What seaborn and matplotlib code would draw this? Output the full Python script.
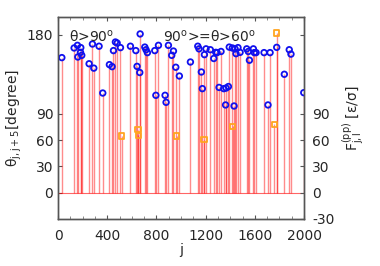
import numpy as np
import pandas as pd
import matplotlib
matplotlib.use("Agg")
import matplotlib.pyplot as plt
import seaborn as sns

# bead index j and angle (degree) for theta > 90
blue_j = [30, 130, 157, 160, 182, 184, 192, 252, 279, 290, 333, 363, 417, 439,
          450, 466, 480, 507, 588, 632, 642, 664, 667, 705, 715, 726, 786, 795,
          816, 870, 878, 897, 924, 938, 957, 986, 1076, 1136, 1146, 1165, 1173,
          1190, 1203, 1238, 1266, 1282, 1293, 1309, 1325, 1347, 1362, 1366, 1385,
          1392, 1417, 1431, 1439, 1447, 1463, 1480, 1534, 1547, 1556, 1588, 1596,
          1610, 1675, 1707, 1724, 1778, 1840, 1880, 1894, 1998]
blue_theta = [154, 165, 168, 154.7, 160, 165.4, 156.6, 147, 169.5, 142, 167, 113.6, 146, 143.7,
              162, 171.8, 170.6, 165.4, 167, 162, 144, 137, 181, 166, 163, 159.7, 162, 111,
              168, 111, 103, 168, 156.6, 161.5, 143, 133, 149, 167, 164, 137.6, 118.6,
              157.4, 164, 163, 153, 160, 159.7, 120, 161, 118.6, 100, 119.3, 121,
              166, 165, 98.8, 164, 158.5, 165.4, 160, 164, 161, 151, 164, 159.7,
              159.7, 159.7, 100, 159.7, 165.7, 135, 163, 158, 114]

# 90 >= theta > 60
orange_j = [518, 650, 653, 965, 1187, 1420, 1759, 1778]
orange_theta = [64.6, 71.8, 65.4, 64.6, 60.4, 75.6, 78, 182]

x_ticks = [0, 400, 800, 1200, 1600, 2000]
left_ticks = [0, 30, 60, 90, 180]
right_ticks = [-30, 0, 30, 60, 90]

blue = pd.DataFrame({"j": blue_j, "theta": blue_theta})
orange = pd.DataFrame({"j": orange_j, "theta": orange_theta})
stems = pd.concat([blue, orange])

sns.set_style("ticks")
plt.rcParams["font.family"] = ["DejaVu Sans"]
plt.rcParams["xtick.direction"] = "in"
plt.rcParams["ytick.direction"] = "in"

fig = plt.figure(figsize=(3.8, 2.66), dpi=100)
ax = fig.add_axes([0.153, 0.177, 0.647, 0.758])

ax.axhline(0, color="red", lw=0.8, alpha=0.6, zorder=1)
ax.vlines(stems["j"], 0, stems["theta"], color="red", lw=1.0, alpha=0.45, zorder=1)

sns.scatterplot(data=blue, x="j", y="theta", ax=ax, marker="o", s=16,
                facecolor="none", edgecolor="#1010ee", linewidth=1.3, zorder=3)
sns.scatterplot(data=orange, x="j", y="theta", ax=ax, marker="s", s=14,
                facecolor="none", edgecolor="#ffa520", linewidth=1.3, zorder=3)

ax.set_xlim(0, 2000)
ax.set_ylim(-30, 200)
ax.set_xticks(x_ticks)
ax.set_xticks(np.arange(0, 2001, 100), minor=True)
ax.set_yticks(left_ticks)
ax.tick_params(axis="both", labelsize=10, length=3, color="#555555", top=True)
ax.tick_params(axis="x", which="minor", length=2, top=True, color="#777777")
ax.tick_params(axis="x", pad=7)
ax.set_xlabel("j", fontsize=10, labelpad=0)
ax.set_ylabel(r"θ$_{\rm j,j+5}$[degree]", fontsize=10, labelpad=2)

ax2 = ax.twinx()
ax2.set_ylim(-30, 200)
ax2.set_yticks(right_ticks + [180])
ax2.set_yticklabels([str(t) for t in right_ticks] + [""])
ax2.tick_params(axis="y", labelsize=10, length=3, direction="in", color="#555555", pad=6)
ax2.set_ylabel(r"F$^{\rm (pp)}_{\rm j,l}$ [ε/σ]", fontsize=10, labelpad=4)

for a in (ax, ax2):
    for sp in a.spines.values():
        sp.set_color("#555555")
        sp.set_linewidth(1.0)

ax.text(276, 178, r"θ>90$^{\rm o}$", fontsize=10, ha="center", va="center")
ax.text(1228, 178, r"90$^{\rm o}$>=θ>60$^{\rm o}$", fontsize=10, ha="center", va="center")

fig.savefig("out.png", dpi=100)
